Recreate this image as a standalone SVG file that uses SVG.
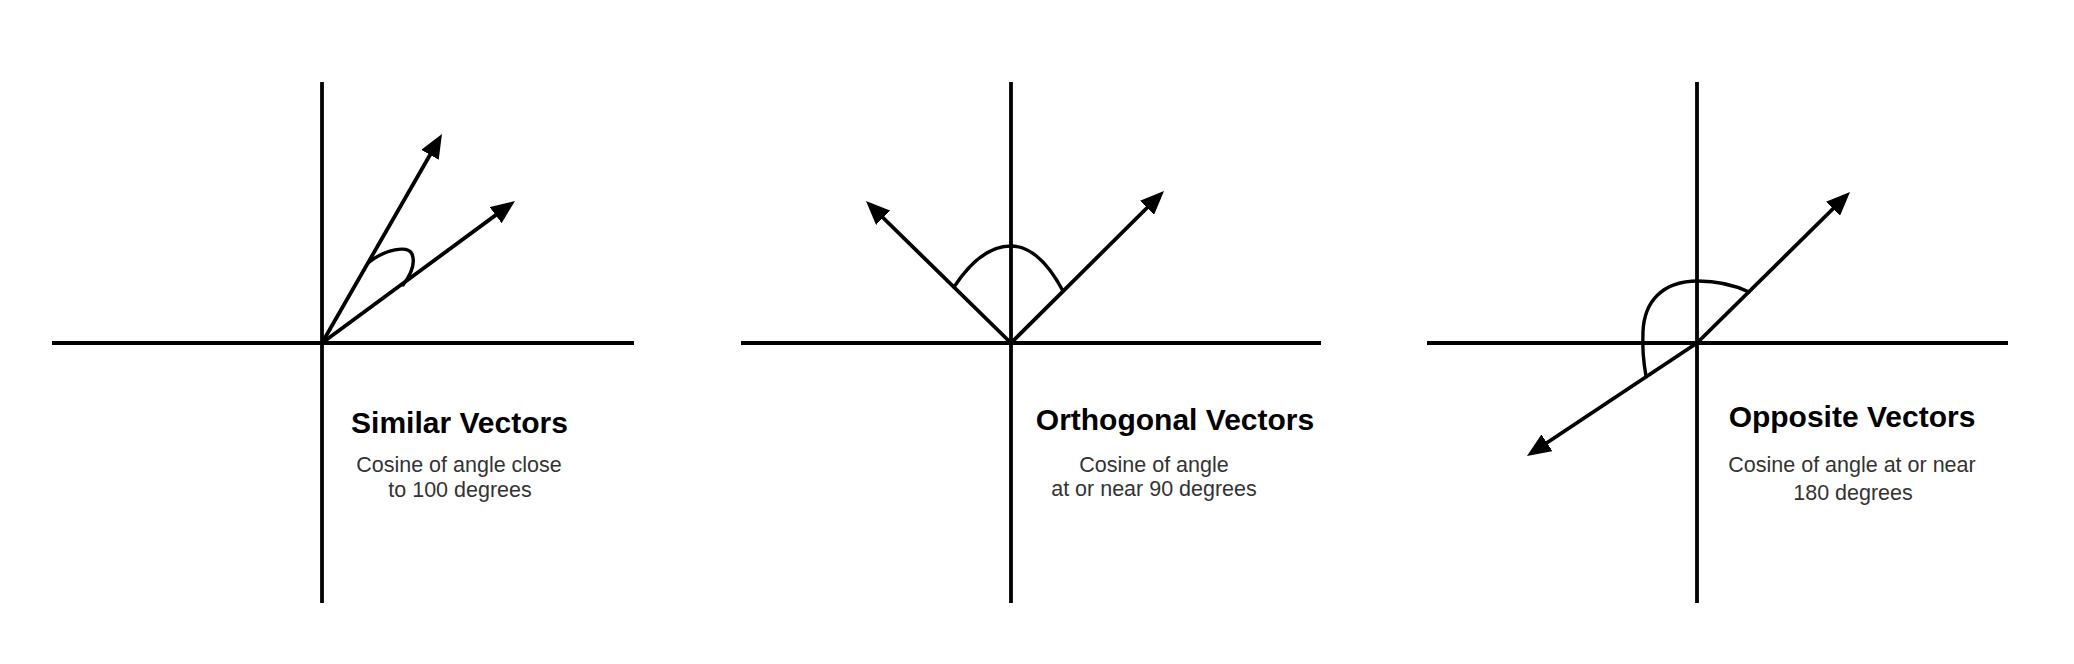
<svg xmlns="http://www.w3.org/2000/svg" width="2074" height="664" viewBox="0 0 2074 664">
<style>
.axis{stroke:#000;stroke-width:3.8;fill:none}
.vec{stroke:#000;stroke-width:3.8;fill:none;marker-end:url(#ah)}
.arc{stroke:#000;stroke-width:3.4;fill:none;stroke-linecap:round}
.title{font-family:"Liberation Sans",Arial,sans-serif;font-weight:bold;font-size:30px;fill:#000;text-anchor:middle}
.sub{font-family:"Liberation Sans",Arial,sans-serif;font-size:21.5px;fill:#333;text-anchor:middle}
</style>
<defs>
<marker id="ah" viewBox="0 0 24 20" refX="14" refY="10" markerWidth="24" markerHeight="20" markerUnits="userSpaceOnUse" orient="auto">
<path d="M0,0 L24,10 L0,20 z" fill="#000"/>
</marker>
</defs>
<rect width="2074" height="664" fill="#fff"/>

<g id="similar">
<line class="axis" x1="52" y1="343" x2="634" y2="343"/>
<line class="axis" x1="322" y1="82" x2="322" y2="603"/>
<g id="similar-vectors">
<line class="vec" x1="322" y1="343" x2="437" y2="142.7"/>
<line class="vec" x1="322" y1="343" x2="506.9" y2="206.9"/>
</g>
<path class="arc" d="M368,263 C385,249 408,245 412,254 C416,264 409,277 403,285"/>
<text class="title" x="459.5" y="433">Similar Vectors</text>
<text class="sub" x="459" y="472">Cosine of angle close</text>
<text class="sub" x="460" y="497">to 100 degrees</text>
</g>

<g id="orthogonal">
<line class="axis" x1="741" y1="343" x2="1321" y2="343"/>
<line class="axis" x1="1011" y1="82" x2="1011" y2="603"/>
<g id="orthogonal-vectors">
<line class="vec" x1="1011" y1="343" x2="873.1" y2="208"/>
<line class="vec" x1="1011" y1="343" x2="1156.9" y2="198"/>
</g>
<path class="arc" d="M954,287 C975,255 995,246 1011,246 C1030,246 1048,263 1063,291"/>
<text class="title" x="1175" y="430">Orthogonal Vectors</text>
<text class="sub" x="1154" y="472">Cosine of angle</text>
<text class="sub" x="1154" y="496">at or near 90 degrees</text>
</g>

<g id="opposite">
<line class="axis" x1="1427" y1="343" x2="2008" y2="343"/>
<line class="axis" x1="1697" y1="82" x2="1697" y2="603"/>
<g id="opposite-vectors">
<line class="vec" x1="1697" y1="343" x2="1842.9" y2="199"/>
<line class="vec" x1="1697" y1="343" x2="1535.3" y2="450.5"/>
</g>
<path class="arc" d="M1749,292 C1730,283 1712,281 1698,281 C1662,281 1644,302 1643,332 C1642,352 1644,365 1646,376"/>
<text class="title" x="1852" y="427">Opposite Vectors</text>
<text class="sub" x="1852" y="472">Cosine of angle at or near</text>
<text class="sub" x="1853" y="500">180 degrees</text>
</g>
</svg>
